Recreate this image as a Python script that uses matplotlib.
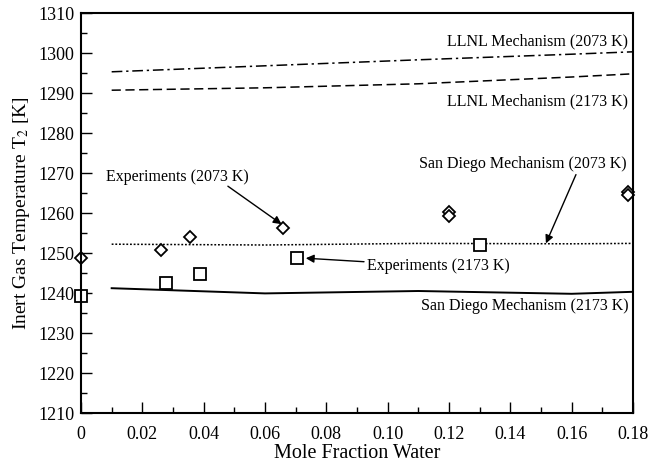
import matplotlib
matplotlib.use("Agg")
import matplotlib.pyplot as plt
from matplotlib.ticker import MultipleLocator, FormatStrFormatter

plt.rcParams['font.family'] = ['Liberation Serif', 'DejaVu Serif']
plt.rcParams['mathtext.fontset'] = 'stix'

# mechanism predictions
x_mech = [0.01, 0.06, 0.11, 0.16, 0.18]
llnl_2073 = [1295.3, 1296.8, 1298.3, 1299.7, 1300.3]
llnl_2173 = [1290.7, 1291.3, 1292.3, 1294.0, 1294.8]
sd_2073 = [1252.2, 1252.0, 1252.4, 1252.3, 1252.4]
sd_2173 = [1241.2, 1239.9, 1240.5, 1239.8, 1240.3]

# measured points
x_exp_2073 = [0.0, 0.026, 0.0355, 0.066, 0.12, 0.12, 0.1785, 0.1785]
t_exp_2073 = [1248.8, 1250.8, 1253.9, 1256.2, 1260.3, 1259.2, 1265.3, 1264.5]
x_exp_2173 = [0.0, 0.0276, 0.0388, 0.0703, 0.13]
t_exp_2173 = [1239.3, 1242.6, 1244.7, 1248.8, 1252.0]

fig = plt.figure(figsize=(6.49, 4.65), dpi=100)
ax = fig.add_axes([81 / 649, 52 / 465, 552 / 649, 400 / 465])

ax.plot(x_mech, llnl_2073, color='k', lw=1.1, linestyle=(0, (7, 2.5, 1.5, 2.5)))
ax.plot(x_mech, llnl_2173, color='k', lw=1.1, linestyle=(0, (6, 3)))
ax.plot(x_mech, sd_2073, color='k', lw=1.1, linestyle=(0, (1.2, 1.2)))
ax.plot(x_mech, sd_2173, color='k', lw=1.4, linestyle='-')

ax.plot(x_exp_2073, t_exp_2073, 'D', ms=6, mfc='white', mec='k', mew=1.3,
        linestyle='none', clip_on=False)
ax.plot(x_exp_2173, t_exp_2173, 's', ms=8, mfc='white', mec='k', mew=1.3,
        linestyle='none', clip_on=False)

fs = 11.5
ax.text(0.1785, 1302.8, 'LLNL Mechanism (2073 K)', ha='right', va='center', fontsize=fs)
ax.text(0.1785, 1287.8, 'LLNL Mechanism (2173 K)', ha='right', va='center', fontsize=fs)
ax.text(0.1785, 1236.8, 'San Diego Mechanism (2173 K)', ha='right', va='center', fontsize=fs)

arrow = dict(arrowstyle='-|>', color='k', lw=1.0, mutation_scale=12, shrinkA=0, shrinkB=0)
ax.annotate('', xy=(0.0654, 1257.2), xytext=(0.0479, 1266.7), arrowprops=arrow)
ax.text(0.0082, 1269.1, 'Experiments (2073 K)', ha='left', va='center', fontsize=fs)
ax.annotate('Experiments (2173 K)', xy=(0.0733, 1248.7), xytext=(0.0932, 1246.7),
            ha='left', va='center', fontsize=fs, arrowprops=arrow)
ax.annotate('', xy=(0.1516, 1252.4), xytext=(0.1614, 1269.6), arrowprops=arrow)
ax.text(0.1778, 1272.3, 'San Diego Mechanism (2073 K)', ha='right', va='center', fontsize=fs)

ax.set_xlim(0, 0.18)
ax.set_ylim(1210, 1310)
ax.xaxis.set_major_locator(MultipleLocator(0.02))
ax.xaxis.set_minor_locator(MultipleLocator(0.01))
ax.yaxis.set_major_locator(MultipleLocator(10))
ax.yaxis.set_minor_locator(MultipleLocator(5))
ax.set_xticks([0, 0.02, 0.04, 0.06, 0.08, 0.10, 0.12, 0.14, 0.16, 0.18])
ax.set_xticklabels(['0', '0.02', '0.04', '0.06', '0.08', '0.10', '0.12', '0.14', '0.16', '0.18'])
ax.yaxis.set_major_formatter(FormatStrFormatter('%d'))

ax.tick_params(which='both', direction='in', top=False, right=False, labelsize=13)
ax.tick_params(axis='x', pad=9)
ax.tick_params(axis='y', pad=5)
ax.tick_params(which='major', length=8, width=1.0)
ax.tick_params(which='minor', length=4, width=1.0)
for sp in ax.spines.values():
    sp.set_linewidth(1.5)

ax.set_xlabel('Mole Fraction Water', fontsize=14.5, labelpad=1)
ax.set_ylabel('Inert Gas Temperature T$_2$ [K]', fontsize=14, labelpad=4)

fig.savefig('out.png', dpi=100)
